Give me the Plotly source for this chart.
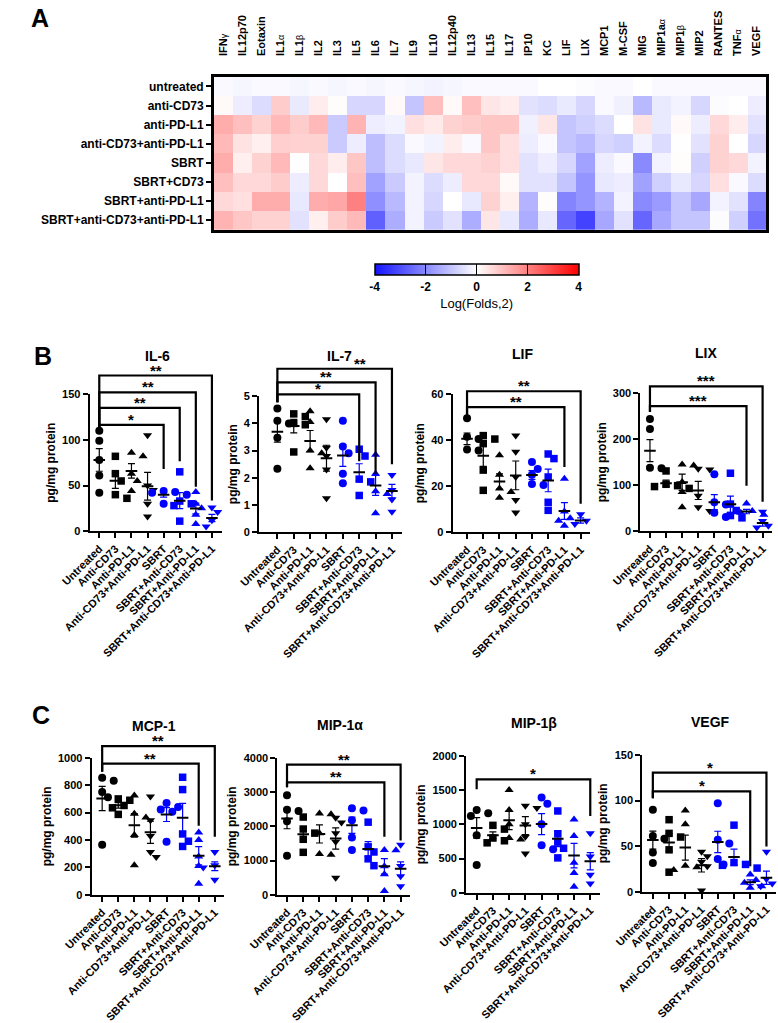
import numpy as np
import plotly.graph_objects as go

W, H = 778, 1023
FONT = "Liberation Sans, Arial, Helvetica, sans-serif"
BLUE = "rgb(0,0,255)"


def greek(ch):
    return '<span style="font-weight:normal;font-size:9px">' + ch + '</span>'


# ---------------- Panel A data (log2 fold change) ----------------
cytokines = ["IFN" + greek("γ"), "IL12p70", "Eotaxin", "IL1" + greek("α"), "IL1" + greek("β"),
             "IL2", "IL3", "IL5", "IL6", "IL7", "IL9", "IL10", "IL12p40", "IL13", "IL15", "IL17",
             "IP10", "KC", "LIF", "LIX", "MCP1", "M-CSF", "MIG", "MIP1a" + greek("α"),
             "MIP1" + greek("β"), "MIP2", "RANTES", "TNF" + greek("α"), "VEGF"]
treatments = ["untreated", "anti-CD73", "anti-PD-L1", "anti-CD73+anti-PD-L1", "SBRT",
              "SBRT+CD73", "SBRT+anti-PD-L1", "SBRT+anti-CD73+anti-PD-L1"]

hm_untreated = [-0.1, -0.15, -0.1, -0.1, -0.15, -0.1, -0.15, -0.1, -0.15, -0.1, -0.15, -0.2, -0.15, -0.1,
                -0.1, -0.1, -0.1, 0.0, 0.0, -0.05, -0.1, -0.1, 0.0, -0.1, -0.1, -0.1, -0.1, -0.1, -0.1]
hm_antiCD73 = [0.1, -0.3, -0.6, 0.8, -0.35, 0.3, 0.05, -0.7, -0.7, 0.1, -1.0, 1.0, 0.1, 1.0, 0.4, 0.3,
               -0.5, -0.6, -0.35, -0.7, -0.1, -0.25, -1.2, -0.35, -0.2, -0.7, -0.05, 0.0, -0.3]
hm_antiPDL1 = [1.3, 1.0, 0.7, 1.1, 0.8, 1.1, -0.9, 1.2, -0.3, -0.2, 0.5, 0.35, 0.7, 0.8, 0.9, 0.9,
               -0.25, 0.4, -1.0, -0.8, -0.6, 0.0, 0.45, -0.35, 0.1, -0.3, 0.6, 0.3, -0.5]
hm_CD73_PDL1 = [1.1, 0.45, 0.25, 0.75, 0.7, 0.7, -0.9, -0.3, -1.1, -0.6, -0.1, -0.2, 0.3, -0.1, 0.9, 0.5,
                -0.3, -0.1, -1.0, -1.2, -0.7, -0.8, -0.2, -0.6, 0.02, -0.5, 0.7, 0.0, -0.7]
hm_SBRT = [1.3, 0.25, 0.7, 1.1, 0.02, 0.6, 0.3, 0.9, -1.1, -0.6, -0.4, 0.4, 0.6, 0.6, 0.7, 0.5,
           -0.5, -0.3, -0.7, -1.6, -0.3, -0.1, -2.0, -0.2, 0.05, -0.8, 0.7, 0.6, -0.2]
hm_SBRT_CD73 = [1.0, 0.6, 0.6, 0.8, -0.3, 0.6, 0.0, 1.0, -1.6, -0.9, -0.2, -0.6, -0.3, 0.6, 0.6, 0.1,
                -0.5, -0.5, -1.0, -1.8, -0.4, -0.3, -1.6, -0.8, -0.4, -0.7, 0.5, -0.1, -0.6]
hm_SBRT_PDL1 = [0.6, 0.5, 1.3, 1.3, -0.4, 1.3, 1.4, 2.0, -1.9, -1.2, -0.2, -0.7, 0.0, -0.4, 0.7, 0.25,
                -1.3, 0.05, -2.1, -1.8, -1.3, -0.2, -2.0, -1.7, -1.0, -1.5, -0.2, -0.5, -2.1]
hm_SBRT_CD73_PDL1 = [1.2, 0.9, 0.7, 0.7, -0.5, 0.25, 0.8, 1.1, -2.7, -1.4, -0.2, -0.9, -0.5, -1.4, 0.4, -0.4,
                     -1.4, -0.4, -2.6, -3.2, -1.5, -0.5, -2.6, -1.5, -1.0, -1.0, -0.05, -0.8, -2.4]
heat_rows = [hm_untreated, hm_antiCD73, hm_antiPDL1, hm_CD73_PDL1, hm_SBRT, hm_SBRT_CD73,
             hm_SBRT_PDL1, hm_SBRT_CD73_PDL1]
cbar_ticks = [-4, -2, 0, 2, 4]
cbar_ticktext = ["-4", "-2", "0", "2", "4"]

# ---------------- Panels B / C data (pg/mg protein) ----------------
groups = ["Untreated", "Anti-CD73", "Anti-PD-L1", "Anti-CD73+Anti-PD-L1", "SBRT",
          "SBRT+Anti-CD73", "SBRT+Anti-PD-L1", "SBRT+Anti-CD73+Anti-PD-L1"]

il6_vals = [[110, 99, 78, 61, 42], [82, 63, 55, 40, 36], [86, 82, 63, 55, 44], [105, 50, 45, 30, 16],
            [44, 43, 42, 40, 30], [65, 33, 30, 28, 11], [43, 30, 25, 18, 8], [26, 21, 12, 8, 5]]
il7_vals = [[4.55, 4.1, 4.0, 3.47, 2.33], [4.35, 4.25, 4.0, 3.95, 2.95], [4.45, 4.05, 3.0, 2.9, 2.35],
            [4.15, 3.1, 2.8, 2.3, 1.25], [4.1, 3.15, 2.9, 2.15, 1.8], [3.05, 2.8, 1.95, 1.85, 1.35],
            [2.85, 2.15, 1.5, 1.4, 0.7], [2.1, 1.95, 1.55, 1.2, 0.75]]
lif_vals = [[49.5, 41.5, 40.5, 36, 35.5], [42, 40.5, 38.5, 27, 18.2], [33.5, 25, 19, 17.5, 15],
            [42, 35, 24, 14, 8.5], [30.5, 27.5, 25, 21, 20.5], [34, 32, 24, 13, 9.5],
            [23.2, 9, 6, 5, 2.8], [7.8, 7.2, 5, 3.5, 1.8]]
lix_vals = [[244, 222, 138, 137, 135], [131, 102, 99, 97, 93], [145, 143, 107, 85, 52],
            [136, 134, 77, 52, 44], [124, 63, 58, 40, 31], [126, 59, 45, 34, 29],
            [60, 44, 40, 36, 33], [42, 22, 12, 8, 4]]
mcp1_vals = [[855, 832, 750, 712, 365], [700, 690, 652, 635, 587], [725, 592, 565, 436, 216],
             [718, 545, 430, 312, 276], [670, 640, 622, 607, 388], [858, 768, 444, 391, 353],
             [455, 400, 280, 210, 80], [312, 215, 205, 200, 110]]
mip1a_vals = [[2910, 2480, 2450, 2150, 1140], [2270, 1920, 1800, 1620, 1240], [2370, 2350, 1800, 1190, 1170],
              [2250, 2110, 1800, 1550, 500], [2530, 2460, 2180, 1670, 1310], [2120, 1400, 1250, 1050, 850],
              [1310, 1300, 830, 600, 110], [1460, 840, 720, 540, 250]]
mip1b_vals = [[1210, 1160, 1120, 840, 405], [985, 930, 800, 760, 730], [1500, 1210, 1000, 800, 780],
              [1270, 1240, 1000, 820, 575], [1390, 1300, 1000, 695, 635], [1195, 860, 740, 650, 510],
              [1070, 830, 440, 290, 90], [870, 530, 500, 265, 135]]
vegf_vals = [[90, 61, 58, 43, 31.5], [79, 64, 60, 46, 21.5], [89, 74, 28.5, 27, 24],
             [44, 39, 33, 28, 1.5], [97, 57, 53, 36, 30], [73, 32, 30, 29, 26],
             [19, 13, 10, 6, 4.5], [44, 14, 9, 6, 4]]

# significance brackets: (target group, bracket level, right-leg end, label, label px shift)
il6_sig = [(4, 116.5, 68, "*", 0), (5, 135, 76.6, "**", 0), (6, 152, 48.6, "**", 0), (7, 170.5, 33.5, "**", 0)]
il7_sig = [(5, 5.07, 2.61, "*", 0), (6, 5.51, 2.14, "**", 0), (7, 6.01, 2.5, "**", 26)]
lif_sig = [(6, 54.4, 28.3, "**", 0), (7, 61.3, 12.4, "**", 0)]
lix_sig = [(6, 272, 98.6, "***", 0), (7, 315, 64, "***", 0)]
mcp1_sig = [(6, 957, 504, "**", 0), (7, 1086, 424, "**", 0)]
mip1a_sig = [(6, 3281, 1698, "**", 0), (7, 3799, 1583, "**", 0)]
mip1b_sig = [(7, 1655, 1122, "*", 0)]
vegf_sig = [(6, 110, 28, "*", 0), (7, 130.6, 49.6, "*", 0)]

symbols = ["circle", "square", "triangle-up", "triangle-down"] * 2
msizes = [8, 7.5, 8, 8] * 2
colors = ["black"] * 4 + [BLUE] * 4

# panel geometry (pixels)
panels = [
    dict(title="IL-6", vals=il6_vals, sig=il6_sig, left=111, ymax=150, dtick=50,
         ax=63, c0=73, c7=190, y0=533, yt=394, tx=133, ty=355),
    dict(title="IL-7", vals=il7_vals, sig=il7_sig, left=4.78, ymax=5, dtick=1,
         ax=239, c0=258, c7=377, y0=534, yt=396, tx=323, ty=355),
    dict(title="LIF", vals=lif_vals, sig=lif_sig, left=51, ymax=60, dtick=20,
         ax=440, c0=455, c7=573, y0=534, yt=394, tx=513, ty=353),
    dict(title="LIX", vals=lix_vals, sig=lix_sig, left=259, ymax=300, dtick=100,
         ax=635, c0=645, c7=762, y0=533, yt=393, tx=703, ty=352),
    dict(title="MCP-1", vals=mcp1_vals, sig=mcp1_sig, left=899, ymax=1000, dtick=200,
         ax=65, c0=76, c7=193, y0=902, yt=763, tx=130, ty=731),
    dict(title="MIP-1α", vals=mip1a_vals, sig=mip1a_sig, left=3137, ymax=4000, dtick=1000,
         ax=258, c0=268, c7=386, y0=902, yt=763, tx=323, ty=730),
    dict(title="MIP-1β", vals=mip1b_vals, sig=mip1b_sig, left=1511, ymax=2000, dtick=500,
         ax=454, c0=465, c7=583, y0=900, yt=761, tx=525, ty=728),
    dict(title="VEGF", vals=vegf_vals, sig=vegf_sig, left=102.5, ymax=150, dtick=50,
         ax=637, c0=648, c7=766, y0=899, yt=760, tx=708, ty=727),
]


def px_x(px):
    return px / W


def px_y(py):
    return 1 - py / H


def swarm(vals, ppu, d=7.5, step=6.0):
    placed = []
    offs = np.zeros(len(vals))
    for k in np.argsort(-np.asarray(vals, dtype=float), kind="stable"):
        y = vals[k] * ppu
        c = 0.0
        for j in range(30):
            c = ((j + 1) // 2) * step * (1 if j % 2 == 1 else -1)
            if all((c - px) ** 2 + (y - py) ** 2 >= d * d for px, py in placed):
                break
        placed.append((c, y))
        offs[k] = c
    return offs


fig = go.Figure()
layout = dict(width=W, height=H, margin=dict(l=0, r=0, t=0, b=0), paper_bgcolor="white",
              plot_bgcolor="white", showlegend=False, font=dict(family=FONT, color="black"))
annotations = []
shapes = []

# ---------------- Heatmap ----------------
fig.add_trace(go.Heatmap(
    z=heat_rows, x=list(range(len(cytokines))), y=list(range(len(treatments))),
    zmin=-4, zmax=4, xaxis="x", yaxis="y", hoverinfo="skip",
    colorscale=[[0, "rgb(20,20,255)"], [0.5, "rgb(255,255,255)"], [1, "rgb(255,0,0)"]],
    colorbar=dict(orientation="h", x=px_x(465), xanchor="center", y=px_y(262), yanchor="top",
                  len=204, lenmode="pixels", thickness=11, thicknessmode="pixels",
                  outlinewidth=1.5, outlinecolor="black", xpad=0, ypad=0,
                  tickmode="array", tickvals=cbar_ticks, ticktext=cbar_ticktext,
                  ticks="inside", ticklen=11, tickwidth=1, tickcolor="black",
                  tickfont=dict(family=FONT, size=12, color="black", weight="bold"),
                  title=dict(text="Log(Folds,2)", side="bottom",
                             font=dict(family=FONT, size=13, color="black")))))
layout["xaxis"] = dict(domain=[px_x(192), px_x(766)], range=[-0.5, len(cytokines) - 0.5], anchor="y",
                       side="top", tickmode="array", tickvals=list(range(len(cytokines))),
                       ticktext=cytokines, tickangle=-90, ticks="", ticklabelstandoff=16,
                       tickfont=dict(family=FONT, size=11, color="black", weight="bold"),
                       showline=True, mirror=True, linewidth=2.5, linecolor="black",
                       showgrid=False, zeroline=False, fixedrange=True)
layout["yaxis"] = dict(domain=[px_y(227), px_y(72)], range=[len(treatments) - 0.5, -0.5], anchor="x",
                       tickmode="array", tickvals=list(range(len(treatments))), ticktext=treatments,
                       ticks="outside", ticklen=5, tickwidth=1.5, tickcolor="black",
                       tickfont=dict(family=FONT, size=12, color="black", weight="bold"),
                       showline=True, mirror=True, linewidth=2.5, linecolor="black",
                       showgrid=False, zeroline=False, fixedrange=True)

# ---------------- Dot plots ----------------
for k, p in enumerate(panels):
    n = k + 2
    xa, ya = "x%d" % n, "y%d" % n
    sp = (p["c7"] - p["c0"]) / 7.0
    xend = p["c7"] + 10
    ppu = (p["y0"] - p["yt"]) / p["ymax"]
    layout["xaxis%d" % n] = dict(
        domain=[px_x(p["ax"]), px_x(xend)], range=[-(p["c0"] - p["ax"]) / sp, 7 + (xend - p["c7"]) / sp],
        anchor=ya, tickmode="array", tickvals=list(range(8)), ticktext=groups, tickangle=-45,
        ticks="outside", ticklen=5, tickwidth=2, tickcolor="black",
        tickfont=dict(family=FONT, size=11, color="black", weight="bold"),
        showline=True, linewidth=2, linecolor="black", showgrid=False, zeroline=False, fixedrange=True)
    layout["yaxis%d" % n] = dict(
        domain=[px_y(p["y0"]), px_y(p["yt"])], range=[0, p["ymax"]], anchor=xa,
        tickmode="linear", tick0=0, dtick=p["dtick"], ticks="outside", ticklen=5, tickwidth=2,
        tickcolor="black", tickfont=dict(family=FONT, size=11, color="black", weight="bold"),
        showline=True, linewidth=2, linecolor="black", showgrid=False, zeroline=False, fixedrange=True,
        title=dict(text="pg/mg protein", standoff=4,
                   font=dict(family=FONT, size=12, color="black", weight="bold")))

    for g in range(8):
        vals = p["vals"][g]
        offs = swarm(vals, ppu) / sp
        fig.add_trace(go.Scatter(
            x=g + offs, y=vals, mode="markers", xaxis=xa, yaxis=ya, cliponaxis=False, hoverinfo="skip",
            marker=dict(symbol=symbols[g], size=msizes[g], color=colors[g], line=dict(width=0))))
    for g in range(8):
        vals = np.asarray(p["vals"][g], dtype=float)
        m = vals.mean()
        s = vals.std(ddof=1) / np.sqrt(len(vals))
        hw = 6.0 / sp
        fig.add_trace(go.Scatter(
            x=[g], y=[m], mode="markers", xaxis=xa, yaxis=ya, cliponaxis=False, hoverinfo="skip",
            marker=dict(size=1, color="rgba(0,0,0,0)"),
            error_y=dict(type="data", array=[s], symmetric=True, color=colors[g], thickness=1.2, width=3.5)))
        fig.add_trace(go.Scatter(
            x=[g - hw, g + hw], y=[m, m], mode="lines", xaxis=xa, yaxis=ya, cliponaxis=False,
            hoverinfo="skip", line=dict(color="black", width=2)))

    # title
    annotations.append(dict(text="<b>%s</b>" % p["title"], x=px_x(p["tx"]), y=px_y(p["ty"]),
                            xref="paper", yref="paper", xanchor="center", yanchor="middle",
                            showarrow=False, font=dict(family=FONT, size=14, color="black")))

    # significance brackets
    def ypix(v, p=p, ppu=ppu):
        return p["y0"] - v * ppu
    x0 = px_x(p["c0"])
    for (tg, lev, leg, lab, dx) in p["sig"]:
        x1 = px_x(p["c0"] + tg * sp)
        path = "M %f,%f L %f,%f L %f,%f L %f,%f" % (
            x0, px_y(ypix(p["left"])), x0, px_y(ypix(lev)), x1, px_y(ypix(lev)), x1, px_y(ypix(leg)))
        shapes.append(dict(type="path", path=path, xref="paper", yref="paper",
                           line=dict(color="black", width=2.2)))
        annotations.append(dict(text="<b>%s</b>" % lab, x=(x0 + x1) / 2 + px_x(dx), y=px_y(ypix(lev)),
                                xref="paper", yref="paper", xanchor="center", yanchor="bottom",
                                yshift=-5, showarrow=False,
                                font=dict(family=FONT, size=15, color="black")))

# panel letters
for letter, (lx, ly) in zip(["A", "B", "C"], [(11, 12), (15, 355), (12, 720)]):
    annotations.append(dict(text="<b>%s</b>" % letter, x=px_x(lx), y=px_y(ly), xref="paper", yref="paper",
                            xanchor="center", yanchor="middle", showarrow=False,
                            font=dict(family=FONT, size=25, color="black")))

layout["annotations"] = annotations
layout["shapes"] = shapes
fig.update_layout(**layout)

fig.write_html("out.html", include_plotlyjs=True, config={"displayModeBar": False},
               post_script="document.body.style.margin='0';document.body.style.overflow='hidden';")
